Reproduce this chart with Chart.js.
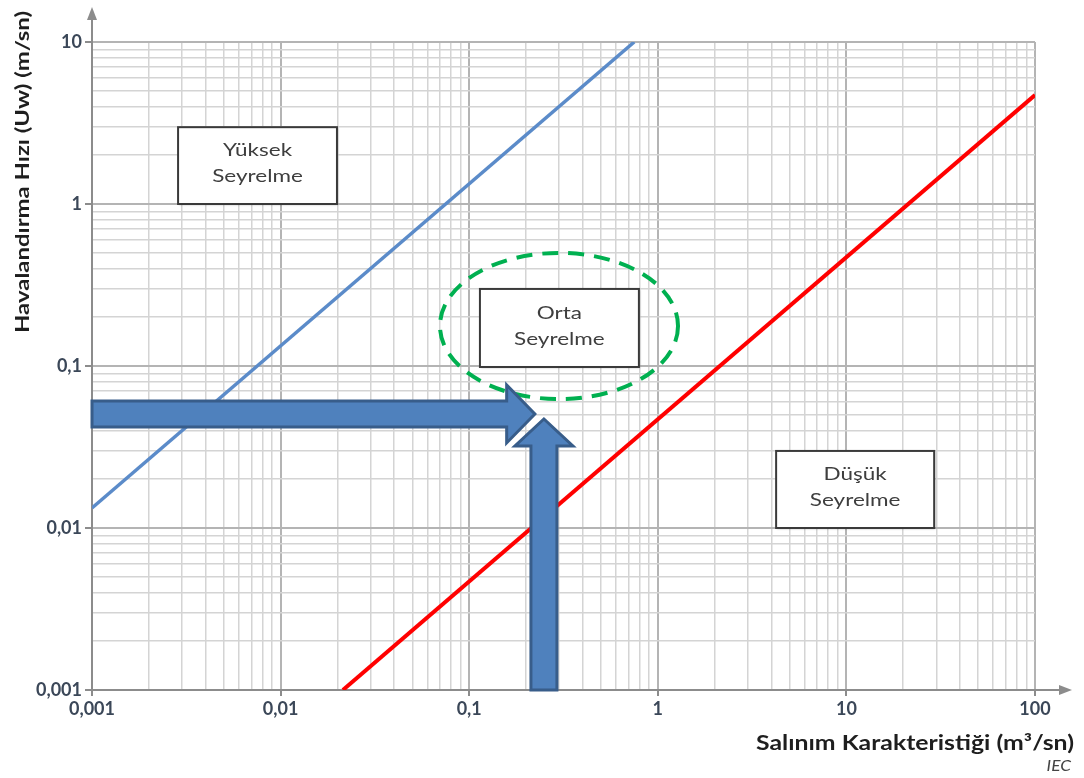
<!DOCTYPE html>
<html>
<head>
<meta charset="utf-8">
<script src="https://cdn.jsdelivr.net/npm/chart.js@4"></script>
<style>
  body { margin: 0; background: #fff; }
  #wrap { width: 1084px; height: 778px; }
</style>
</head>
<body>
<div id="wrap"><canvas id="myChart" width="1084" height="778"></canvas></div>
<script>
// axis decades and their labels
var xDecades = [0.001, 0.01, 0.1, 1, 10, 100];
var xTickLabels = ["0,001", "0,01", "0,1", "1", "10", "100"];
var yDecades = [0.001, 0.01, 0.1, 1, 10];
var yTickLabels = ["0,001", "0,01", "0,1", "1", "10"];
var minorSteps = [1, 2, 3, 4, 5, 6, 7, 8, 9];

// boundary lines
var blueX = [0.001, 0.75];
var blueY = [0.0133, 10];
var redX = [0.0214, 100];
var redY = [0.001, 4.7];

// zone boxes (data coords: x1, x2, y top, y bottom)
var zoneNames = [["Yüksek", "Seyrelme"], ["Orta", "Seyrelme"], ["Düşük", "Seyrelme"]];
var zoneX1 = [0.00286, 0.114, 4.24];
var zoneX2 = [0.0199, 0.794, 29.2];
var zoneYTop = [2.98, 0.299, 0.0299];
var zoneYBot = [1.0, 0.0986, 0.01];

// example reading arrows
var hArrow = { y: 0.0506, xFrom: 0.001, xHead: 0.158, xTip: 0.223 };
var vArrow = { x: 0.249, yFrom: 0.001, yHead: 0.0321, yTip: 0.0471 };
// dashed ring around "Orta"
var ring = { x1: 0.070, x2: 1.28, yTop: 0.499, yBot: 0.0625 };

var FONT = "Lato, 'Open Sans', sans-serif";

function buildTicks(decades) {
  var out = [];
  decades.forEach(function (d, i) {
    if (i == decades.length - 1) {
      out.push({ value: d, major: true });
      return;
    }
    minorSteps.forEach(function (m) {
      out.push({ value: +(d * m).toPrecision(6), major: m == 1 });
    });
  });
  return out;
}

function labelFor(value, decades, labels) {
  for (var i = 0; i < decades.length; i++) {
    if (Math.abs(value - decades[i]) < decades[i] * 1e-6) return labels[i];
  }
  return "";
}

function isMajor(ctx) {
  return ctx.tick && ctx.tick.major;
}

// text stretched sideways, the source picture is wider than tall
function stretchText(ctx, text, x, y, sx, align) {
  ctx.save();
  ctx.translate(x, y);
  ctx.scale(sx, 1);
  ctx.textAlign = align;
  ctx.fillText(text, 0, 0);
  ctx.restore();
}

function drawArrowPoly(ctx, pts) {
  ctx.beginPath();
  ctx.moveTo(pts[0][0], pts[0][1]);
  for (var i = 1; i < pts.length; i++) ctx.lineTo(pts[i][0], pts[i][1]);
  ctx.closePath();
  ctx.fillStyle = "#4f81bd";
  ctx.fill();
  ctx.lineWidth = 3;
  ctx.strokeStyle = "#385d8a";
  ctx.lineJoin = "miter";
  ctx.stroke();
}

var overlay = {
  id: "overlay",
  afterDatasetsDraw: function (chart) {
    var ctx = chart.ctx;
    var xs = chart.scales.x, ys = chart.scales.y;
    ctx.save();

    // zone boxes
    for (var i = 0; i < zoneNames.length; i++) {
      var l = xs.getPixelForValue(zoneX1[i]);
      var r = xs.getPixelForValue(zoneX2[i]);
      var t = ys.getPixelForValue(zoneYTop[i]);
      var b = ys.getPixelForValue(zoneYBot[i]);
      ctx.shadowColor = "rgba(0,0,0,0.25)";
      ctx.shadowOffsetX = 1;
      ctx.shadowOffsetY = 1;
      ctx.shadowBlur = 2;
      ctx.fillStyle = "#fff";
      ctx.fillRect(l, t, r - l, b - t);
      ctx.shadowColor = "transparent";
      ctx.lineWidth = 2;
      ctx.strokeStyle = "#3a3a3a";
      ctx.strokeRect(l, t, r - l, b - t);
      ctx.fillStyle = "#3e3e3e";
      ctx.font = "18px " + FONT;
      ctx.textBaseline = "middle";
      var cx = (l + r) / 2, cy = (t + b) / 2;
      stretchText(ctx, zoneNames[i][0], cx, cy - 15, 1.25, "center");
      stretchText(ctx, zoneNames[i][1], cx, cy + 11, 1.25, "center");
    }

    // dashed ring
    var rl = xs.getPixelForValue(ring.x1), rr = xs.getPixelForValue(ring.x2);
    var rt = ys.getPixelForValue(ring.yTop), rb = ys.getPixelForValue(ring.yBot);
    ctx.beginPath();
    ctx.ellipse((rl + rr) / 2, (rt + rb) / 2, (rr - rl) / 2, (rb - rt) / 2, 0, 0, Math.PI * 2);
    ctx.setLineDash([16, 10]);
    ctx.lineWidth = 4;
    ctx.strokeStyle = "#00b050";
    ctx.stroke();
    ctx.setLineDash([]);

    // horizontal arrow
    var hy = ys.getPixelForValue(hArrow.y);
    var hx0 = xs.getPixelForValue(hArrow.xFrom);
    var hxh = xs.getPixelForValue(hArrow.xHead);
    var hxt = xs.getPixelForValue(hArrow.xTip);
    drawArrowPoly(ctx, [
      [hx0, hy - 13], [hxh, hy - 13], [hxh, hy - 29], [hxt, hy],
      [hxh, hy + 29], [hxh, hy + 13], [hx0, hy + 13]
    ]);

    // vertical arrow
    var vx = xs.getPixelForValue(vArrow.x);
    var vy0 = ys.getPixelForValue(vArrow.yFrom);
    var vyh = ys.getPixelForValue(vArrow.yHead);
    var vyt = ys.getPixelForValue(vArrow.yTip);
    drawArrowPoly(ctx, [
      [vx - 13, vy0], [vx - 13, vyh], [vx - 29, vyh], [vx, vyt],
      [vx + 29, vyh], [vx + 13, vyh], [vx + 13, vy0]
    ]);
    ctx.restore();
  },
  afterDraw: function (chart) {
    var ctx = chart.ctx;
    var a = chart.chartArea;
    ctx.save();
    // axis arrow heads
    ctx.strokeStyle = "#8c8c8c";
    ctx.fillStyle = "#8c8c8c";
    ctx.lineWidth = 2;
    ctx.beginPath();
    ctx.moveTo(a.left, a.top);
    ctx.lineTo(a.left, 18);
    ctx.stroke();
    ctx.beginPath();
    ctx.moveTo(a.left, 7);
    ctx.lineTo(a.left - 5, 20);
    ctx.lineTo(a.left + 5, 20);
    ctx.closePath();
    ctx.fill();
    ctx.beginPath();
    ctx.moveTo(a.right, a.bottom);
    ctx.lineTo(1060, a.bottom);
    ctx.stroke();
    ctx.beginPath();
    ctx.moveTo(1072, a.bottom);
    ctx.lineTo(1059, a.bottom - 5);
    ctx.lineTo(1059, a.bottom + 5);
    ctx.closePath();
    ctx.fill();

    // axis titles
    ctx.fillStyle = "#1e1e1e";
    ctx.font = "bold 20px " + FONT;
    ctx.textBaseline = "middle";
    var xt = "Salınım Karakteristiği (m³/sn)";
    stretchText(ctx, xt, 1074, 744, 318 / ctx.measureText(xt).width, "right");
    ctx.font = "italic 15px " + FONT;
    ctx.fillStyle = "#444";
    stretchText(ctx, "IEC", 1071, 766, 1.15, "right");

    ctx.font = "bold 19px " + FONT;
    ctx.fillStyle = "#1e1e1e";
    var yt = "Havalandırma Hızı (Uw) (m/sn)";
    ctx.translate(23, 172);
    ctx.rotate(-Math.PI / 2);
    stretchText(ctx, yt, 0, 0, 322 / ctx.measureText(yt).width, "center");
    ctx.restore();
  }
};

var tickFont = { family: FONT, size: 18, weight: "bold" };

new Chart("myChart", {
  type: "scatter",
  data: {
    datasets: [{
      data: blueX.map(function (x, i) { return { x: x, y: blueY[i] }; }),
      showLine: true,
      borderColor: "#5b8bc9",
      borderWidth: 3.5,
      pointRadius: 0
    }, {
      data: redX.map(function (x, i) { return { x: x, y: redY[i] }; }),
      showLine: true,
      borderColor: "#ff0000",
      borderWidth: 4,
      pointRadius: 0
    }]
  },
  options: {
    responsive: false,
    animation: false,
    layout: { padding: { top: 42, right: 49, left: 0, bottom: 0 } },
    plugins: { legend: { display: false }, tooltip: { enabled: false } },
    scales: {
      x: {
        type: "logarithmic",
        min: 0.001,
        max: 100,
        afterBuildTicks: function (scale) { scale.ticks = buildTicks(xDecades); },
        afterFit: function (scale) { scale.height = 88; },
        ticks: {
          autoSkip: false,
          maxRotation: 0,
          padding: 2,
          color: "#3b4758",
          font: tickFont,
          callback: function (v) { return labelFor(v, xDecades, xTickLabels); }
        },
        grid: {
          color: function (c) { return isMajor(c) ? "#b4b4b4" : "#d4d4d4"; },
          lineWidth: function (c) { return isMajor(c) ? 2 : 1.5; },
          tickColor: function (c) { return isMajor(c) ? "#8c8c8c" : "rgba(0,0,0,0)"; },
          tickLength: 6
        },
        border: { color: "#8c8c8c", width: 2 }
      },
      y: {
        type: "logarithmic",
        min: 0.001,
        max: 10,
        afterBuildTicks: function (scale) { scale.ticks = buildTicks(yDecades); },
        afterFit: function (scale) { scale.width = 92; },
        ticks: {
          autoSkip: false,
          padding: 3,
          color: "#3b4758",
          font: tickFont,
          callback: function (v) { return labelFor(v, yDecades, yTickLabels); }
        },
        grid: {
          color: function (c) { return isMajor(c) ? "#b4b4b4" : "#d4d4d4"; },
          lineWidth: function (c) { return isMajor(c) ? 2 : 1.5; },
          tickColor: function (c) { return isMajor(c) ? "#8c8c8c" : "rgba(0,0,0,0)"; },
          tickLength: 7
        },
        border: { color: "#8c8c8c", width: 2 }
      }
    }
  },
  plugins: [overlay]
});
</script>
</body>
</html>
